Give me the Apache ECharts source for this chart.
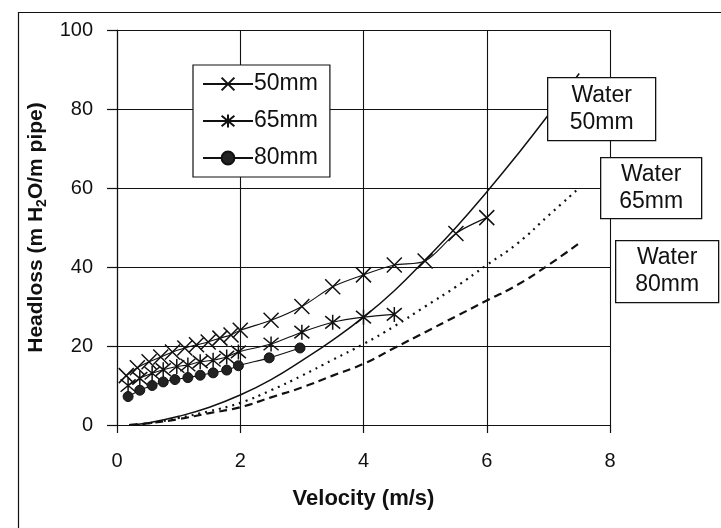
<!DOCTYPE html>
<html><head><meta charset="utf-8">
<script src="https://cdn.jsdelivr.net/npm/echarts@6/dist/echarts.min.js"></script>
<style>html,body{margin:0;padding:0;background:#fff}#c{width:721px;height:528px}</style>
</head><body><div id="c"></div>
<script>
// ---- data ----
const xTicks = [0, 2, 4, 6, 8];
const yTicks = [0, 20, 40, 60, 80, 100];
const seriesNames = ['50mm', '65mm', '80mm'];
const vel50 = [0.15, 0.33, 0.52, 0.71, 0.9, 1.1, 1.29, 1.48, 1.67, 1.85, 2.0, 2.5, 3.0, 3.5, 4.0, 4.5, 5.0, 5.5, 6.0];
const head50 = [12.5, 14.5, 16, 17.2, 18.5, 19.5, 20.3, 21, 22, 22.8, 24, 26.5, 30, 35, 38, 40.5, 41.5, 48.5, 52.5];
const vel65 = [0.18, 0.37, 0.57, 0.75, 0.97, 1.15, 1.35, 1.56, 1.78, 1.97, 2.5, 3.0, 3.5, 4.0, 4.5];
const head65 = [10, 11.8, 13.1, 14, 14.8, 15.2, 16, 16.4, 17.2, 18.5, 20.5, 23.5, 26, 27.3, 28];
const vel80 = [0.18, 0.37, 0.57, 0.75, 0.94, 1.15, 1.35, 1.56, 1.78, 1.97, 2.47, 2.97];
const head80 = [7.2, 8.8, 10.0, 10.9, 11.5, 12.0, 12.6, 13.2, 13.9, 15.0, 17.0, 19.5];
const waterVel = [0.2, 0.5, 1, 1.5, 2, 2.5, 3, 3.5, 4, 4.5, 5, 5.5, 6, 6.5, 7, 7.5];
const water50 = [0, 0.5, 2.2, 4.5, 7.6, 11.5, 16.3, 21.5, 27.3, 34, 41.8, 50, 59, 68.5, 78.5, 89];
const water65 = [0, 0.4, 1.8, 3.5, 5.6, 8.8, 12.5, 16.5, 20.5, 25, 30, 35, 40.5, 46, 53, 60];
const water80 = [0, 0.4, 1.5, 3, 4.5, 7, 9.5, 12.5, 15.5, 19.5, 23.5, 27.5, 31.5, 35.5, 40.5, 46];
const waterLabels = ['Water\n50mm', 'Water\n65mm', 'Water\n80mm'];

const zip = (a, b) => a.map((v, i) => [v, b[i]]);
const FONT = '"Liberation Sans", Arial, sans-serif';
const X_PATH = 'path://M0,0L10,10M10,0L0,10';
const STAR_PATH = 'path://M0,0L10,10M10,0L0,10M5,-1L5,11';

const expStyle = (sym, size, fill) => ({
  type: 'line', smooth: 0.3, symbol: sym, symbolSize: size, showSymbol: true,
  lineStyle: { color: '#111', width: 1.1 },
  itemStyle: fill ? { color: '#222', borderColor: '#111', borderWidth: 1 }
                  : { color: 'rgba(0,0,0,0)', borderColor: '#111', borderWidth: 1.5 },
  z: 5
});
const waterStyle = (dash, w) => ({
  type: 'line', smooth: true, symbol: 'none', showSymbol: false,
  lineStyle: { color: '#111', width: w, type: dash }, z: 3
});

const chart = echarts.init(document.getElementById('c'));
const labelBoxes = [
  { x: 547, y: 77, w: 108, h: 63 },
  { x: 600, y: 157, w: 101, h: 61 },
  { x: 615, y: 240, w: 103, h: 62 }
];
chart.setOption({
  backgroundColor: '#fff',
  animation: false,
  grid: { left: 117, top: 30, right: 111, bottom: 103 },
  xAxis: {
    type: 'value', min: xTicks[0], max: xTicks[xTicks.length - 1], interval: 2,
    name: 'Velocity (m/s)', nameLocation: 'middle', nameGap: 63,
    nameTextStyle: { fontFamily: FONT, fontSize: 22, fontWeight: 'bold', color: '#111' },
    axisLine: { show: true, lineStyle: { color: '#111', width: 1.2 } },
    axisTick: { show: true, inside: false, length: 8, lineStyle: { color: '#111', width: 1.2 } },
    axisLabel: { margin: 26, fontFamily: FONT, fontSize: 20, color: '#111' },
    splitLine: { show: true, lineStyle: { color: '#111', width: 1.1 } }
  },
  yAxis: {
    type: 'value', min: yTicks[0], max: yTicks[yTicks.length - 1], interval: 20,
    name: '{a|Headloss (m H}{b|2}{a|O/m pipe)}', nameLocation: 'middle', nameGap: 65, nameRotate: 90,
    nameTextStyle: {
      rich: {
        a: { fontFamily: FONT, fontSize: 21, fontWeight: 'bold', color: '#111', lineHeight: 26 },
        b: { fontFamily: FONT, fontSize: 14, fontWeight: 'bold', color: '#111', lineHeight: 16, verticalAlign: 'bottom' }
      }
    },
    axisLine: { show: true, lineStyle: { color: '#111', width: 1.2 } },
    axisTick: { show: true, inside: false, length: 10, lineStyle: { color: '#111', width: 1.2 } },
    axisLabel: { margin: 24, fontFamily: FONT, fontSize: 20, color: '#111' },
    splitLine: { show: true, lineStyle: { color: '#111', width: 1.1 } }
  },
  legend: {
    data: seriesNames,
    orient: 'vertical', left: 193, top: 65,
    backgroundColor: '#fff', borderColor: '#111', borderWidth: 1.2,
    padding: [6, 12, 6, 9], itemGap: 11, itemWidth: 50, itemHeight: 16,
    textStyle: { fontFamily: FONT, fontSize: 23, color: '#111', lineHeight: 26, padding: [0, 0, 0, -4] },
    z: 20
  },
  graphic: [
    { type: 'rect', left: 16, top: 10, shape: { width: 740, height: 560 }, style: { fill: 'none', stroke: '#111', lineWidth: 1.2 }, z: -1, silent: true },
    ...labelBoxes.map((b, i) => ({
      type: 'group', left: b.x, top: b.y, z: 50, zlevel: 1,
      children: [
        { type: 'rect', z: 50, zlevel: 1, shape: { width: b.w, height: b.h }, style: { fill: '#fff', stroke: '#111', lineWidth: 1.3 } },
        { type: 'text', z: 51, zlevel: 1, x: b.w / 2, y: b.h / 2, style: { text: waterLabels[i], fontFamily: FONT, fontSize: 23, lineHeight: 27, fill: '#111', align: 'center', verticalAlign: 'middle' } }
      ]
    }))
  ],
  series: [
    Object.assign({ name: seriesNames[0], data: zip(vel50, head50) }, expStyle(X_PATH, 15, false)),
    Object.assign({ name: seriesNames[1], data: zip(vel65, head65) }, expStyle(STAR_PATH, 15, false)),
    Object.assign({ name: seriesNames[2], data: zip(vel80, head80) }, expStyle('circle', 10, true)),
    Object.assign({ name: 'Water 50mm', data: zip(waterVel, water50) }, waterStyle('solid', 1.5)),
    Object.assign({ name: 'Water 65mm', data: zip(waterVel, water65) }, waterStyle([2, 5], 2.2)),
    Object.assign({ name: 'Water 80mm', data: zip(waterVel, water80) }, waterStyle([8, 5], 2.2))
  ]
});
</script>
</body></html>
